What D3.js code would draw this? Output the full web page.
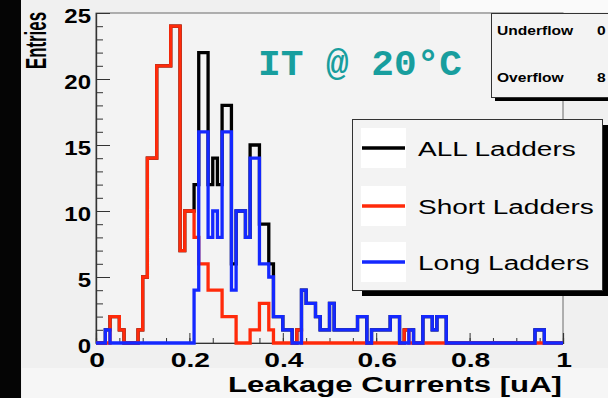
<!DOCTYPE html>
<html>
<head>
<meta charset="utf-8">
<script src="https://cdn.jsdelivr.net/npm/d3@7"></script>
<style>
  html, body { margin: 0; padding: 0; background: #000; }
  svg { display: block; }
</style>
</head>
<body>
<svg id="chart" width="608" height="398"></svg>
<script>
// Leakage current histograms, 100 bins of 0.01 uA between 0 and 1
const binEdges = d3.range(0, 100).map(i => i / 100);

const allLadders = [
  0, 0, 1, 2, 2, 1, 0, 0, 0, 1,
  5, 14, 14, 21, 21, 21, 24, 24, 7, 10,
  10, 12, 22, 22, 12, 14, 12, 18, 18, 6,
  10, 10, 8, 15, 15, 9, 9, 6, 2, 2,
  1, 1, 0, 1, 4, 3, 3, 2, 1, 1,
  3, 1, 1, 1, 1, 1, 2, 2, 0, 1,
  1, 1, 1, 2, 2, 0, 1, 1, 0, 0,
  2, 2, 1, 2, 2, 0, 0, 0, 0, 0,
  0, 0, 0, 0, 0, 0, 0, 0, 0, 0,
  0, 0, 0, 0, 1, 1, 0, 0, 0, 0
];

const shortLadders = [
  0, 0, 0, 2, 2, 1, 0, 0, 0, 1,
  5, 14, 14, 21, 21, 21, 24, 24, 7, 10,
  10, 8, 6, 6, 4, 4, 4, 2, 2, 2,
  0, 0, 0, 1, 1, 3, 3, 1, 0, 0,
  0, 0, 0, 1, 0, 0, 0, 0, 0, 0,
  0, 0, 0, 0, 0, 0, 0, 0, 0, 0,
  0, 0, 0, 0, 0, 0, 1, 0, 0, 0,
  0, 0, 0, 0, 0, 0, 0, 0, 0, 0,
  0, 0, 0, 0, 0, 0, 0, 0, 0, 0,
  0, 0, 0, 0, 0, 0, 0, 0, 0, 0
];

const longLadders = [
  0, 0, 1, 0, 0, 0, 0, 0, 0, 0,
  0, 0, 0, 0, 0, 0, 0, 0, 0, 0,
  0, 4, 16, 16, 8, 10, 8, 16, 16, 4,
  10, 10, 8, 14, 14, 6, 6, 5, 2, 2,
  1, 1, 0, 0, 4, 3, 3, 2, 1, 1,
  3, 1, 1, 1, 1, 1, 2, 2, 0, 1,
  1, 1, 1, 2, 2, 0, 0, 1, 0, 0,
  2, 2, 1, 2, 2, 0, 0, 0, 0, 0,
  0, 0, 0, 0, 0, 0, 0, 0, 0, 0,
  0, 0, 0, 0, 1, 1, 0, 0, 0, 0
];

const seriesNames = ["ALL Ladders", "Short Ladders", "Long Ladders"];
const seriesColors = ["#000000", "#ff2a0a", "#1428ff"];
const xTickLabels = ["0", "0.2", "0.4", "0.6", "0.8", "1"];
const yTickLabels = ["0", "5", "10", "15", "20", "25"];
const statNames = ["Underflow", "Overflow"];
const statValues = ["0", "8"];

const svg = d3.select("#chart");
const W = 608, H = 398;
const frame = { left: 96, right: 563, top: 13, bottom: 343 };

const x = d3.scaleLinear().domain([0, 1]).range([frame.left, frame.right]);
const y = d3.scaleLinear().domain([0, 25]).range([frame.bottom, frame.top]);

const sans = "'Liberation Sans', Arial, Helvetica, sans-serif";

// text drawn with a horizontal stretch, as the canvas is wider than tall
function wideText(parent, str, px, py, opts) {
  const o = Object.assign({ size: 20, sx: 1.4, anchor: "start", weight: "normal", fill: "#000", family: sans, rotate: 0 }, opts);
  return parent.append("text")
    .attr("transform", `translate(${px},${py}) rotate(${o.rotate}) scale(${o.sx},1)`)
    .attr("text-anchor", o.anchor)
    .attr("font-family", o.family)
    .attr("font-weight", o.weight)
    .attr("font-size", o.size)
    .attr("fill", o.fill)
    .text(str);
}

// pad background
svg.append("rect").attr("x", 0).attr("y", 0).attr("width", W).attr("height", H).attr("fill", "#f0f0f0");
svg.append("rect").attr("x", 22).attr("y", 368).attr("width", W - 22).attr("height", H - 368).attr("fill", "#f6f6f6");
svg.append("rect").attr("x", 440).attr("y", 0).attr("width", W - 440).attr("height", 12).attr("fill", "#fafafa");
svg.append("rect").attr("x", 0).attr("y", 0).attr("width", 21).attr("height", H).attr("fill", "#050505");

// frame
svg.append("rect")
  .attr("x", frame.left).attr("y", frame.top)
  .attr("width", frame.right - frame.left).attr("height", frame.bottom - frame.top)
  .attr("fill", "#f3f3f3").attr("stroke", "#6a6a6a").attr("stroke-width", 1);

// axes
const yAxis = d3.axisLeft(y).tickValues(d3.range(0, 26, 5)).tickSize(-14).tickFormat("");
const yMinor = d3.axisLeft(y).tickValues(d3.range(0, 26, 1)).tickSize(-7).tickFormat("");
const xMajor = d3.axisBottom(x).tickValues([0, 0.2, 0.4, 0.6, 0.8, 1]).tickSize(-10).tickFormat("");
const xMinor = d3.axisBottom(x).tickValues(d3.range(0, 1.001, 0.05)).tickSize(-5).tickFormat("");

function styleAxis(g) {
  g.select(".domain").attr("stroke", "#333").attr("stroke-width", 1.2);
  g.selectAll(".tick line").attr("stroke", "#333").attr("stroke-width", 1);
}
svg.append("g").attr("transform", `translate(${frame.left},0)`).call(yMinor).call(styleAxis);
svg.append("g").attr("transform", `translate(${frame.left},0)`).call(yAxis).call(styleAxis);
svg.append("g").attr("transform", `translate(0,${frame.bottom})`).call(xMinor).call(styleAxis);
svg.append("g").attr("transform", `translate(0,${frame.bottom})`).call(xMajor).call(styleAxis);

// tick labels
const yLab = svg.append("g");
yTickLabels.forEach(d => wideText(yLab, d, 91, y(+d) + 10, { size: 20, sx: 1.2, anchor: "end", weight: "bold" }));
const xLab = svg.append("g");
xTickLabels.forEach(d => wideText(xLab, d, x(+d) + 1, 367, { size: 19.5, sx: 1.45, anchor: "middle", weight: "bold" }));

// axis titles
wideText(svg, "Entries", 46, 69, { size: 29, sx: 0.58, weight: "bold", rotate: -90 });
svg.append("text")
  .attr("x", 228).attr("y", 392)
  .attr("font-family", sans).attr("font-weight", "bold").attr("font-size", 22.5)
  .attr("textLength", 334).attr("lengthAdjust", "spacingAndGlyphs")
  .attr("fill", "#000").text("Leakage Currents [uA]");

// step outlines
function stepPath(values) {
  const pts = [[0, 0]].concat(values.map((v, i) => [binEdges[i], v])).concat([[1, 0]]);
  return d3.line().x(d => x(d[0])).y(d => y(d[1])).curve(d3.curveStepAfter)(pts);
}
const seriesData = [allLadders, shortLadders, longLadders];
svg.append("g").selectAll("path").data(seriesData).join("path")
  .attr("d", d => stepPath(d))
  .attr("fill", "none")
  .attr("stroke", (d, i) => seriesColors[i])
  .attr("stroke-width", 3.3)
  .attr("stroke-linejoin", "miter");

// title
svg.append("text")
  .attr("x", 258).attr("y", 75)
  .attr("font-family", "'Liberation Mono', 'Courier New', monospace").attr("font-weight", "bold").attr("font-size", 37)
  .attr("textLength", 204).attr("lengthAdjust", "spacingAndGlyphs")
  .attr("fill", "#189e9e").text("IT @ 20°C");

// statistics box
const stats = svg.append("g");
stats.append("rect").attr("x", 495).attr("y", 17).attr("width", 120).attr("height", 84).attr("fill", "#000");
stats.append("rect").attr("x", 491.5).attr("y", 13.5).attr("width", 120).attr("height", 84)
  .attr("fill", "#f3f3f3").attr("stroke", "#333").attr("stroke-width", 1);
statNames.forEach((d, i) => wideText(stats, d, 497, 35 + i * 47, { size: 12, sx: 1.3, weight: "bold" }));
statValues.forEach((d, i) => wideText(stats, d, 597, 35 + i * 47, { size: 12, sx: 1.3, weight: "bold" }));

// legend
const lg = svg.append("g");
lg.append("rect").attr("x", 362).attr("y", 125).attr("width", 250).attr("height", 171).attr("fill", "#000");
lg.append("rect").attr("x", 352.5).attr("y", 119.5).attr("width", 250).attr("height", 171)
  .attr("fill", "#f3f3f3").attr("stroke", "#333").attr("stroke-width", 1);
const entryY = [148, 206, 262];
lg.selectAll("rect.swatch").data(seriesNames).join("rect").attr("class", "swatch")
  .attr("x", 361).attr("y", (d, i) => entryY[i] - 20).attr("width", 45).attr("height", 40)
  .attr("fill", "#ffffff");
lg.selectAll("line").data(seriesNames).join("line")
  .attr("x1", 362).attr("x2", 405)
  .attr("y1", (d, i) => entryY[i]).attr("y2", (d, i) => entryY[i])
  .attr("stroke", (d, i) => seriesColors[i]).attr("stroke-width", 3.5);
seriesNames.forEach((d, i) => wideText(lg, d, 418, entryY[i] + 8, { size: 20, sx: 1.4 }));
</script>
</body>
</html>
